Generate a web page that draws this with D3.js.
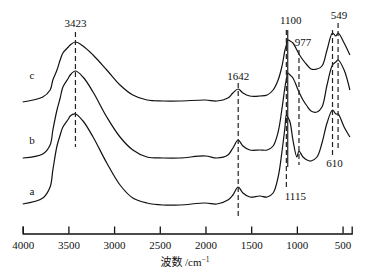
<!DOCTYPE html>
<html>
<head>
<meta charset="utf-8">
<style>
  body { margin: 0; background: #fff; }
  svg text { font-family: "Liberation Serif", "Times New Roman", "DejaVu Serif", serif; fill: #111; }
</style>
</head>
<body>
<div class="chartContainer"></div>

<script src="https://d3js.org/d3.v7.min.js"></script>
<script>
    // wavenumber grid (cm^-1) shared by the three spectra
    const wavenumbers = [4000, 3780, 3700, 3670, 3625, 3590, 3560, 3500, 3480, 3423, 3340, 3230, 3080, 2935, 2795, 2640,
                         2465, 2280, 2000, 1875, 1755, 1700, 1642, 1590, 1515, 1405, 1325, 1260, 1205, 1165, 1130, 1115,
                         1100, 1075, 1043, 1000, 977, 933, 889, 845, 780, 725, 670, 610, 573, 549, 483, 420]

    // intensities (arbitrary units)
    const seriesA = [26, 32, 43, 60, 84, 95, 103, 111, 114, 116, 109, 93, 67, 45, 32, 27,
                     25, 25, 27, 26, 30, 35, 43, 37, 33, 34, 33, 37, 53, 77, 103, 115,
                     113, 108, 90, 73, 79, 73, 70, 69, 73, 87, 107, 120, 116, 116, 103, 93]
    const seriesB = [26, 30, 39, 54, 74, 86, 97, 106, 109, 113, 107, 92, 67, 47, 34, 27,
                     26, 26, 28, 26, 29, 36, 44, 38, 34, 34, 34, 38, 52, 74, 97, 104,
                     111, 109, 106, 97, 92, 84, 78, 73, 72, 77, 99, 119, 122, 124, 114, 94]
    const seriesC = [26, 31, 38, 48, 58, 68, 75, 81, 83, 86, 82, 73, 58, 43, 33, 28,
                     27, 27, 28, 27, 30, 35, 39, 35, 32, 32, 33, 38, 48, 61, 78, 83,
                     88, 87, 85, 78, 74, 68, 63, 59, 59, 62, 78, 95, 92, 95, 85, 73]

    const seriesNames = ['a', 'b', 'c']
    const seriesOffsets = [0, 46, 102]   // vertical stacking, same units

    // bottom axis
    const xTicks = [4000, 3500, 3000, 2500, 2000, 1500, 1000, 500]

    // marked bands
    const bandValues = [3423, 1642, 1115, 1100, 977, 610, 549]
    const bandLabels = ['3423', '1642', '1115', '1100', '977', '610', '549']

    // layout of the marker lines (pixels): top, bottom, label baseline, label dx, dashed?
    const bandLayout = {
      '3423': {y0: 32, y1: 147, ty: 27, dx: 0, dash: true},
      '1642': {y0: 83, y1: 218, ty: 80, dx: 0, dash: true},
      '1115': {y0: 30, y1: 190, ty: 200, dx: 9, dash: true},
      '1100': {y0: 30, y1: 167, ty: 24, dx: 3, dash: false},
      '977':  {y0: 50, y1: 165, ty: 46, dx: 4, dash: true},
      '610':  {y0: 30, y1: 157, ty: 167, dx: 2, dash: true},
      '549':  {y0: 23, y1: 148, ty: 19, dx: 1, dash: true}
    }

    const width = 374, height = 280

    const svg = d3.select('.chartContainer')
                  .append('svg')
                  .attr('width', width)
                  .attr('height', height)
                  .attr('font-family', '"Liberation Serif", serif')

    // scales
    const xScale = d3.scaleLinear()
                     .domain([4000, 400])
                     .range([22.7, 351.7])

    const yScale = d3.scaleLinear()
                     .domain([0, 200])
                     .range([230, 30])

    const allSeries = [seriesA, seriesB, seriesC].map((vals, i) => ({
      name: seriesNames[i],
      offset: seriesOffsets[i],
      points: wavenumbers.map((w, j) => ({w: w, v: vals[j]}))
    }))

    const lineGen = d3.line()
                      .x(d => xScale(d.w))
                      .curve(d3.curveCatmullRom.alpha(0.5))

    svg.selectAll('.spectrum')
       .data(allSeries)
       .join('path')
       .attr('class', 'spectrum')
       .attr('d', s => lineGen.y(d => yScale(d.v + s.offset))(s.points))
       .attr('fill', 'none')
       .attr('stroke', '#111')
       .attr('stroke-width', 1.2)

    // series letters
    const letterY = {a: 195, b: 143.5, c: 79}
    svg.selectAll('.letter')
       .data(seriesNames)
       .join('text')
       .attr('class', 'letter')
       .attr('x', 32)
       .attr('y', d => letterY[d])
       .attr('text-anchor', 'middle')
       .attr('font-size', 11)
       .text(d => d)

    // marker lines
    const bands = bandValues.map((w, i) => ({w: w, label: bandLabels[i], ...bandLayout[bandLabels[i]]}))

    svg.selectAll('.band')
       .data(bands)
       .join('line')
       .attr('class', 'band')
       .attr('x1', d => xScale(d.w))
       .attr('x2', d => xScale(d.w))
       .attr('y1', d => d.y0)
       .attr('y2', d => d.y1)
       .attr('stroke', '#222')
       .attr('stroke-width', 1.2)
       .attr('stroke-dasharray', d => d.dash ? '5,3' : null)

    svg.selectAll('.bandLabel')
       .data(bands)
       .join('text')
       .attr('class', 'bandLabel')
       .attr('x', d => xScale(d.w) + d.dx)
       .attr('y', d => d.ty)
       .attr('text-anchor', 'middle')
       .attr('font-size', 11)
       .text(d => d.label)

    // x axis, ticks pointing inward
    const xAxis = d3.axisBottom(xScale)
                    .tickValues(xTicks)
                    .tickFormat(d3.format('d'))
                    .tickSizeInner(-7)
                    .tickSizeOuter(-7)
                    .tickPadding(8)

    const gx = svg.append('g')
                  .attr('transform', 'translate(0,233.5)')
                  .call(xAxis)
                  .attr('font-family', null)
    gx.selectAll('path, line').attr('stroke', '#111').attr('stroke-width', 1.3)
    gx.selectAll('text')
      .attr('font-size', 11)
      .attr('fill', '#111')

    const title = svg.append('text')
                     .attr('x', 185)
                     .attr('y', 266)
                     .attr('text-anchor', 'middle')
                     .attr('font-size', 11)
    title.append('tspan')
         .style('font-family', '"Noto Sans CJK SC", sans-serif')
         .text('波数 ')
    title.append('tspan').text('/cm')
    title.append('tspan')
         .attr('font-size', 7.5)
         .attr('dy', -4)
         .text('−1')
</script>
</body>
</html>
